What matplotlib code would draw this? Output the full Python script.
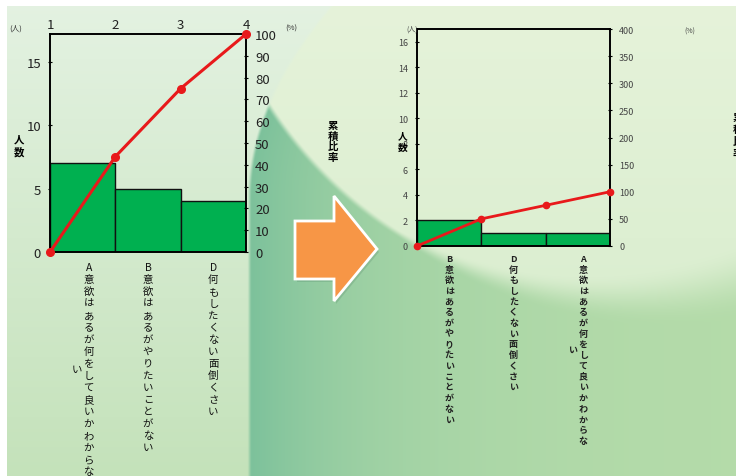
import numpy as np
import matplotlib
matplotlib.use("Agg")
import matplotlib.pyplot as plt
from matplotlib.patches import Polygon
from matplotlib.transforms import blended_transform_factory, offset_copy

plt.rcParams['font.family'] = ['Noto Sans CJK JP', 'DejaVu Sans']

# ---------------- data ----------------
categories_before = ["A意欲はあるが何をして良いかわからない",
                     "B意欲はあるがやりたいことがない",
                     "D何もしたくない面倒くさい"]
counts_before = [7, 5, 4]
cum_pct_before = [0, 43.75, 75, 100]
top_ticks_before = ["1", "2", "3", "4"]
left_ticks_before = [0, 5, 10, 15]
right_ticks_before = [0, 10, 20, 30, 40, 50, 60, 70, 80, 90, 100]

categories_after = ["B意欲はあるがやりたいことがない",
                    "D何もしたくない面倒くさい",
                    "A意欲はあるが何をして良いかわからない"]
counts_after = [2, 1, 1]
cum_pct_after = [0, 50, 75, 100]
left_ticks_after = [0, 2, 4, 6, 8, 10, 12, 14, 16]
right_ticks_after = [0, 50, 100, 150, 200, 250, 300, 350, 400]

y_label = "人数"
y2_label = "累積比率"
unit_left = "(人)"
unit_right = "(%)"
LABEL_WRAP = 18

W, H = 736, 477
fig = plt.figure(figsize=(W / 100, H / 100), dpi=100)
fig.patch.set_facecolor("white")


def fx(x):
    return x / W


def fy(y):
    return 1 - y / H


# ---------------- background ----------------
bx0, by0 = 7, 7
yy, xx = np.mgrid[by0:H, bx0:W].astype(float)


def smooth(v):
    v = np.clip(v, 0, 1)
    return v * v * (3 - 2 * v)


t = (yy / H)[..., None]
left_col = np.array([228, 242, 226]) * (1 - t) + np.array([196, 226, 186]) * t
light_col = np.array([230, 243, 218]) * (1 - t) + np.array([212, 235, 202]) * t
xL = 249 + 0.0022 * np.clip(200 - yy, 0, None) ** 2
d = xx - xL
w = np.exp(-np.clip(d, 0, None) / 140)[..., None]
cres_col = np.array([124, 193, 155]) * w + np.array([182, 220, 170]) * (1 - w)
r1 = np.hypot(xx - 620, yy + 120)
soft = 7 + np.clip(xx - 400, 0, None) * 0.2
m1 = smooth((418 - r1) / soft + 0.5)[..., None]
mL = smooth(d / 5 + 0.5)[..., None]
img = left_col * (1 - mL) + mL * (m1 * light_col + (1 - m1) * cres_col)
img = np.clip(img, 0, 255).astype(np.uint8)

bg = fig.add_axes([fx(bx0), 0, 1 - fx(bx0), 1 - by0 / H], zorder=-10)
bg.imshow(img, aspect="auto", interpolation="bilinear")
bg.axis("off")

# ---------------- arrow ----------------
arrow_px = [(295, 222), (334, 222), (334, 197), (377, 250), (334, 302), (334, 280), (295, 280)]
shadow = Polygon([(fx(x + 2), fy(y + 3)) for x, y in arrow_px], closed=True,
                 transform=fig.transFigure, facecolor="#3a6a50", alpha=0.18,
                 edgecolor="none", zorder=1)
fig.patches.append(shadow)
arrow = Polygon([(fx(x), fy(y)) for x, y in arrow_px], closed=True,
                transform=fig.transFigure, facecolor="#f79646", edgecolor="white",
                linewidth=2, zorder=2)
fig.patches.append(arrow)


# ---------------- helpers ----------------
def vertical_label(ax, xdata, text, top_px, step, fs, wrap, color, weight="normal"):
    cols = [text[i:i + wrap] for i in range(0, len(text), wrap)]
    ncol = len(cols)
    center_y = top_px + len(cols[0]) * step / 2
    base = blended_transform_factory(ax.transData, fig.transFigure)
    for ci, col in enumerate(cols):
        dx = ((ncol - 1) / 2 - ci) * step
        tr = offset_copy(base, fig=fig, x=dx, y=0, units="dots")
        ystart = center_y - len(col) * step / 2
        for k, ch in enumerate(col):
            ypx = ystart + (k + 0.5) * step
            ax.text(xdata, fy(ypx), ch, transform=tr, ha="center", va="center",
                    fontsize=fs, color=color, fontweight=weight, clip_on=False)


def stacked_text(x_px, y_top_px, text, step, fs, weight="bold", color="black"):
    for k, ch in enumerate(text):
        fig.text(fx(x_px), fy(y_top_px + (k + 0.5) * step), ch, ha="center",
                 va="center", fontsize=fs, fontweight=weight, color=color)


def pareto(rect, counts, cum, ylim_l, ylim_r, lticks, rticks, fs, lw_line, ms,
           tick_color):
    ax = fig.add_axes(rect)
    ax.patch.set_alpha(0)
    x = np.arange(len(counts))
    ax.bar(x, counts, width=1, align="edge", color="#00b050", edgecolor="#111111",
           linewidth=1.0, zorder=2)
    ax.set_xlim(0, len(counts))
    ax.set_ylim(0, ylim_l)
    ax.set_yticks(lticks)
    ax.set_yticklabels([str(v) for v in lticks])
    ax.tick_params(axis="y", length=3, width=0.8, direction="inout", pad=5,
                   labelsize=fs, labelcolor=tick_color)
    for s in ax.spines.values():
        s.set_linewidth(1.2)
        s.set_color("black")
    ax2 = ax.twinx()
    ax2.set_ylim(0, ylim_r)
    ax2.set_yticks(rticks)
    ax2.set_yticklabels([str(v) for v in rticks])
    ax2.tick_params(axis="y", length=3, width=0.8, direction="inout", pad=5,
                    labelsize=fs, labelcolor=tick_color)
    for s in ax2.spines.values():
        s.set_linewidth(1.2)
        s.set_color("black")
    ax2.plot(np.arange(len(cum)), cum, color="#e8191b", lw=lw_line, marker="o",
             ms=ms, clip_on=False, zorder=5)
    return ax, ax2


# ---------------- left chart ----------------
axL, axL2 = pareto([fx(50), fy(253), 196 / W, 218 / H], counts_before, cum_pct_before,
                   17.2, 100, left_ticks_before, right_ticks_before, 9.5, 2.2, 5.5,
                   "#222222")
axL.xaxis.tick_top()
axL.set_xticks(np.arange(len(top_ticks_before)))
axL.set_xticklabels(top_ticks_before)
axL.tick_params(axis="x", length=0, pad=2, labelsize=9.5, labelcolor="#222222")
for i, lab in enumerate(categories_before):
    vertical_label(axL, i + 0.5, lab, 262, 12, 7.5, LABEL_WRAP, "#111111")

fig.text(fx(16), fy(29), unit_left, ha="center", va="center", fontsize=5.5, color="#333333")
fig.text(fx(291), fy(29), unit_right, ha="center", va="center", fontsize=5.5, color="#333333")
stacked_text(19, 133, y_label, 13, 7.5)
stacked_text(333, 121, y2_label, 10.5, 7.5)

# ---------------- right chart ----------------
axR, axR2 = pareto([fx(417), fy(247), 193 / W, 217 / H], counts_after, cum_pct_after,
                   17.0, 400, left_ticks_after, right_ticks_after, 6.5, 2.0, 4.5,
                   "#444444")
axR.set_xticks([])
for i, lab in enumerate(categories_after):
    vertical_label(axR, i + 0.5, lab, 254, 10.7, 6.5, LABEL_WRAP, "#222222", "bold")

fig.text(fx(412), fy(30), unit_left, ha="center", va="center", fontsize=5, color="#444444")
fig.text(fx(690), fy(32), unit_right, ha="center", va="center", fontsize=5, color="#444444")
stacked_text(403, 130, y_label, 12, 7)
stacked_text(738, 112, y2_label, 12, 7.5)

fig.savefig("out.png", dpi=100)
